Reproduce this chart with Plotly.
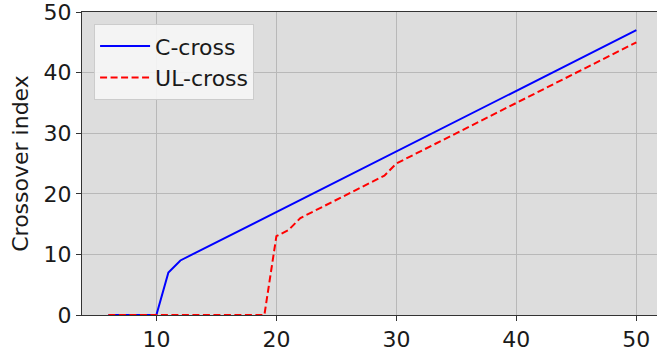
import plotly.graph_objects as go

x_vals = list(range(6, 51))
c_cross = [0, 0, 0, 0, 0, 7, 9, 10, 11, 12, 13, 14, 15, 16, 17, 18, 19, 20, 21, 22,
           23, 24, 25, 26, 27, 28, 29, 30, 31, 32, 33, 34, 35, 36, 37, 38, 39, 40,
           41, 42, 43, 44, 45, 46, 47]
ul_cross = [0, 0, 0, 0, 0, 0, 0, 0, 0, 0, 0, 0, 0, 0, 13, 14, 16, 17, 18, 19,
            20, 21, 22, 23, 25, 26, 27, 28, 29, 30, 31, 32, 33, 34, 35, 36, 37, 38,
            39, 40, 41, 42, 43, 44, 45]
x_ticks = [10, 20, 30, 40, 50]
y_ticks = [0, 10, 20, 30, 40, 50]

FONT = "DejaVu Sans"
FS = 22
TXT = "#1a1a1a"

fig = go.Figure()
fig.add_trace(go.Scatter(x=x_vals, y=c_cross, mode="lines", name="C-cross",
                         line=dict(color="#0000ff", width=2)))
fig.add_trace(go.Scatter(x=x_vals, y=ul_cross, mode="lines", name="UL-cross",
                         line=dict(color="#ff0000", width=2, dash="7px,3.5px")))

fig.update_layout(
    width=657, height=353,
    margin=dict(l=82, r=0, t=10, b=38),
    paper_bgcolor="white",
    plot_bgcolor="#dddddd",
    font=dict(family=FONT, size=FS, color=TXT),
    showlegend=True,
    legend=dict(x=0.021, y=0.96, xanchor="left", yanchor="top",
                bgcolor="rgba(246,246,246,0.9)", bordercolor="#cccccc", borderwidth=1,
                font=dict(family=FONT, size=FS, color=TXT),
                tracegroupgap=0, itemwidth=50),
    xaxis=dict(range=[3.8, 51.72], tickvals=x_ticks, ticktext=[str(v) for v in x_ticks],
               showgrid=True, gridcolor="#b8b8b8", gridwidth=1.2,
               zeroline=False, showline=True, linecolor="#333333", linewidth=1,
               mirror=True, ticks="outside", ticklen=5, tickcolor="#333333",
               ticklabeloverflow="allow",
               tickfont=dict(family=FONT, size=FS, color=TXT)),
    yaxis=dict(range=[0, 50.0001], tickvals=y_ticks, ticktext=[str(v) for v in y_ticks],
               showgrid=True, gridcolor="#b8b8b8", gridwidth=1.2,
               zeroline=False, showline=True, linecolor="#333333", linewidth=1,
               ticks="outside", ticklen=5, tickcolor="#333333",
               ticklabeloverflow="allow",
               title=dict(text="Crossover index", standoff=8,
                          font=dict(family=FONT, size=FS, color=TXT)),
               tickfont=dict(family=FONT, size=FS, color=TXT)),
)

fig.write_html("out.html")
